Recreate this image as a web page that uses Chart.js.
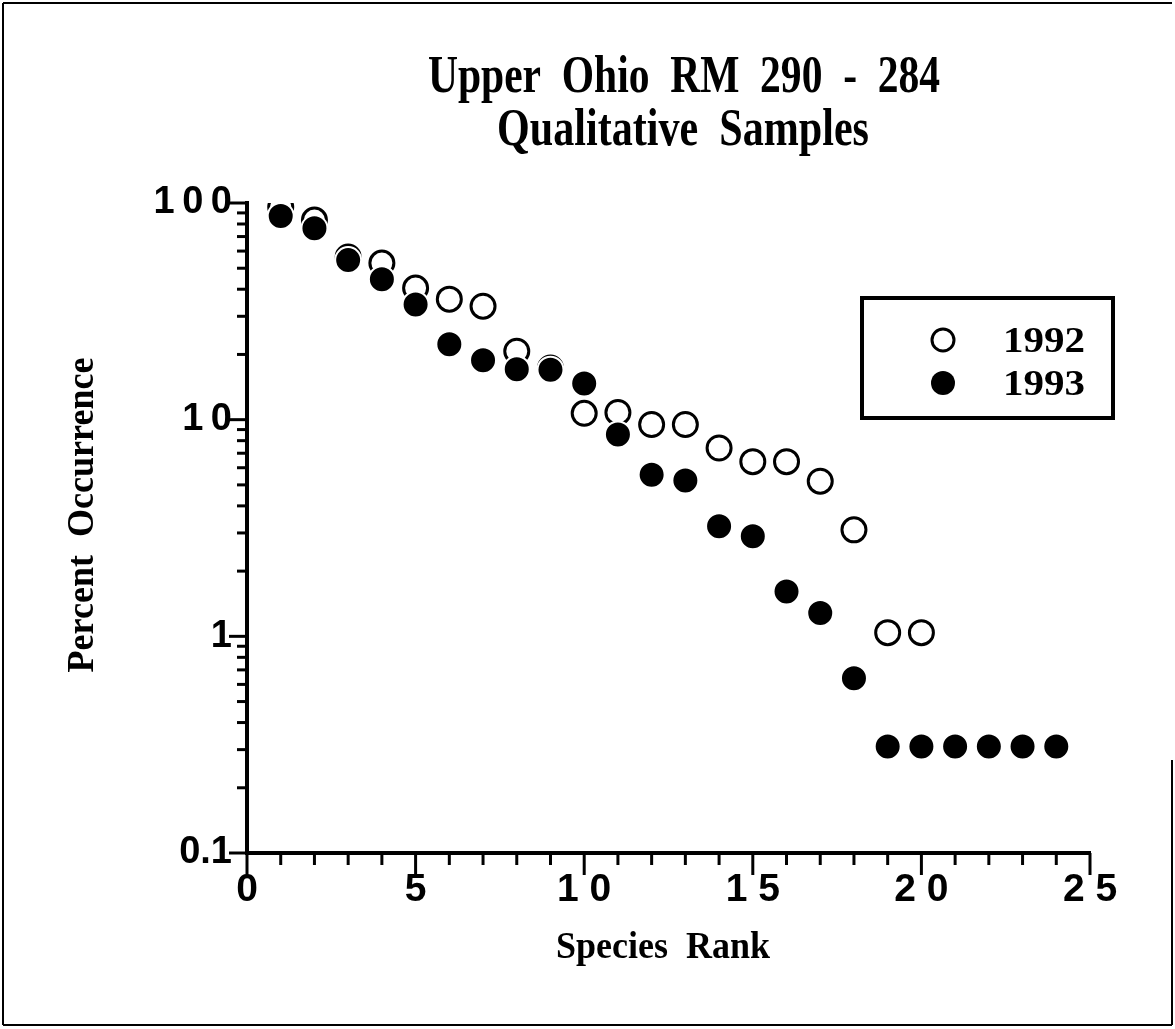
<!DOCTYPE html>
<html>
<head>
<meta charset="utf-8">
<script src="https://cdn.jsdelivr.net/npm/chart.js@4.4.1/dist/chart.umd.min.js"></script>
<style>
  html, body { margin: 0; padding: 0; background: #fff; }
  #wrap { position: relative; width: 1175px; height: 1029px; }
</style>
</head>
<body>
<div id="wrap"><canvas id="chart" width="1175" height="1029"></canvas></div>
<script>
// species rank vs percent occurrence
const rank1992 = [1, 2, 3, 4, 5, 6, 7, 8, 9, 10, 11, 12, 13, 14, 15, 16, 17, 18, 19, 20];
const occ1992  = [95.8, 83.4, 56.3, 52.8, 40.5, 36.0, 33.4, 20.7, 17.3, 10.7, 10.8, 9.5, 9.5, 7.4, 6.4, 6.4, 5.2, 3.1, 1.04, 1.04];

const rank1993 = [1, 2, 3, 4, 5, 6, 7, 8, 9, 10, 11, 12, 13, 14, 15, 16, 17, 18, 19, 20, 21, 22, 23, 24];
const occ1993  = [87.1, 76.4, 54.5, 44.5, 34.0, 22.3, 18.8, 17.1, 17.0, 14.7, 8.55, 5.57, 5.24, 3.22, 2.90, 1.61, 1.28, 0.64, 0.31, 0.31, 0.31, 0.31, 0.31, 0.31];

const seriesNames = ['1992', '1993'];
const xTickValues = [0, 5, 10, 15, 20, 25];
const xTickLabels = ['0', '5', '1 0', '1 5', '2 0', '2 5'];
const yTickValues = [0.1, 1, 10, 100];
const yTickLabels = ['0.1', '1', '1\u20090', '1\u20090\u20090'];

const titleLines = ['Upper  Ohio  RM  290  -  284', 'Qualitative  Samples'];
const xTitle = 'Species  Rank';
const yTitle = 'Percent  Occurrence';

const SERIF = '"Liberation Serif", "DejaVu Serif", serif';
const SANS = '"Liberation Sans", Arial, sans-serif';

// draws text squeezed/stretched to a given width (the original uses a condensed face)
function fitText(ctx, text, x, y, size, width, rotate) {
  ctx.save();
  ctx.font = `bold ${size}px ${SERIF}`;
  const w = ctx.measureText(text).width;
  ctx.translate(x, y);
  if (rotate) ctx.rotate(-Math.PI / 2);
  ctx.scale(width / w, 1);
  ctx.textAlign = 'center';
  ctx.textBaseline = 'alphabetic';
  ctx.fillStyle = '#000';
  ctx.fillText(text, 0, 0);
  ctx.restore();
}

function line(ctx, x1, y1, x2, y2) {
  ctx.beginPath();
  ctx.moveTo(x1, y1);
  ctx.lineTo(x2, y2);
  ctx.stroke();
}

const decor = {
  id: 'decor',
  afterDraw(chart) {
    const { ctx, chartArea: a, scales: { x, y } } = chart;
    ctx.save();
    ctx.strokeStyle = '#000';
    ctx.lineWidth = 3;

    // log ticks on the y axis, pointing out
    for (const d of [0.1, 1, 10]) {
      for (let m = 1; m < 10; m++) {
        const py = y.getPixelForValue(d * m);
        line(ctx, a.left - (m === 1 ? 18 : 10), py, a.left, py);
      }
    }
    line(ctx, a.left - 18, y.getPixelForValue(100), a.left, y.getPixelForValue(100));

    // unit ticks on the x axis
    for (let v = x.min; v <= x.max; v++) {
      const px = x.getPixelForValue(v);
      line(ctx, px, a.bottom, px, a.bottom + (v % 5 === 0 ? 22 : 12));
    }

    // frame round the figure
    ctx.lineWidth = 2;
    line(ctx, 3, 3, 1172, 3);
    line(ctx, 3, 3, 3, 1025);
    line(ctx, 3, 1025, 1172, 1025);
    line(ctx, 1172, 760, 1172, 1025);

    // titles
    fitText(ctx, titleLines[0], 684, 92, 52, 512);
    fitText(ctx, titleLines[1], 683, 145, 52, 372);
    fitText(ctx, xTitle, 663, 958, 38, 214);
    fitText(ctx, yTitle, 93, 515, 38, 315, true);

    // legend box
    ctx.lineWidth = 4;
    ctx.strokeRect(862, 298, 251, 120);
    ctx.lineWidth = 3;
    ctx.fillStyle = '#fff';
    ctx.beginPath(); ctx.arc(943, 340, 11, 0, Math.PI * 2); ctx.fill(); ctx.stroke();
    ctx.fillStyle = '#000';
    ctx.beginPath(); ctx.arc(943, 383, 12, 0, Math.PI * 2); ctx.fill();
    fitText(ctx, seriesNames[0], 1044, 352, 36, 82);
    fitText(ctx, seriesNames[1], 1044, 395, 36, 82);

    ctx.restore();
  }
};

const ctx = document.getElementById('chart').getContext('2d');
new Chart(ctx, {
  type: 'scatter',
  data: {
    datasets: [
      {
        label: seriesNames[0],
        data: rank1992.map((r, i) => ({ x: r, y: occ1992[i] })),
        pointRadius: 12,
        pointBorderWidth: 3,
        borderColor: '#000',
        backgroundColor: '#fff',
        order: 2,
      },
      {
        label: seriesNames[1],
        data: rank1993.map((r, i) => ({ x: r, y: occ1993[i] })),
        pointRadius: 13,
        pointBorderWidth: 2,
        borderColor: '#fff',
        backgroundColor: '#000',
        order: 1,
      },
    ]
  },
  options: {
    responsive: false,
    animation: false,
    devicePixelRatio: 1,
    layout: { padding: { top: 203, right: 85, left: 0, bottom: 0 } },
    plugins: {
      legend: { display: false },
      tooltip: { enabled: false },
      title: { display: false },
    },
    scales: {
      x: {
        type: 'linear',
        min: 0,
        max: 25,
        grid: { drawOnChartArea: false, drawTicks: false },
        border: { color: '#000', width: 4 },
        afterBuildTicks: s => { s.ticks = xTickValues.map(v => ({ value: v })); },
        afterFit: s => { s.height = 1029 - 853; },
        ticks: {
          color: '#000',
          padding: 14,
          maxRotation: 0,
          autoSkip: false,
          font: { family: SANS, size: 39, weight: 'bold' },
          callback: v => xTickLabels[xTickValues.indexOf(v)],
        },
      },
      y: {
        type: 'logarithmic',
        min: 0.1,
        max: 100,
        grid: { drawOnChartArea: false, drawTicks: false },
        border: { color: '#000', width: 4 },
        afterBuildTicks: s => { s.ticks = yTickValues.map(v => ({ value: v })); },
        afterFit: s => { s.width = 247; },
        ticks: {
          color: '#000',
          padding: 15,
          autoSkip: false,
          font: { family: SANS, size: 38, weight: 'bold' },
          callback: v => {
            const i = yTickValues.findIndex(t => Math.abs(t - v) < 1e-9);
            return i >= 0 ? yTickLabels[i] : '';
          },
        },
      },
    },
  },
  plugins: [decor],
});
</script>
</body>
</html>
